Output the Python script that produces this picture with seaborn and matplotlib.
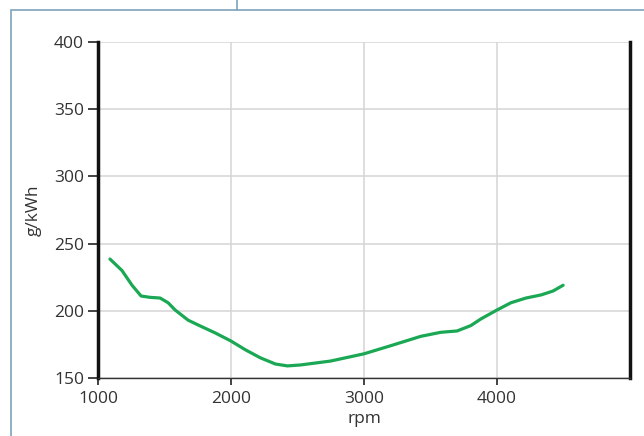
import pandas as pd
import seaborn as sns
import matplotlib.pyplot as plt
from matplotlib.lines import Line2D
from matplotlib.patches import Rectangle

# values
rpm = [1090, 1180, 1256, 1324, 1392, 1467, 1527, 1580, 1678, 1769, 1882, 2000,
       2108, 2221, 2334, 2424, 2522, 2748, 3000, 3200, 3427, 3577, 3700, 3803,
       3880, 4000, 4105, 4218, 4331, 4421, 4497]
gkwh = [238.5, 230.0, 219.0, 211.0, 210.0, 209.5, 206.0, 200.6, 193.0, 188.7,
        183.5, 177.5, 171.0, 165.0, 160.4, 159.0, 159.7, 162.6, 168.0, 174.0,
        181.0, 184.0, 185.0, 189.0, 194.0, 200.6, 206.0, 209.5, 211.8, 214.7, 219.0]
xticks = [1000, 2000, 3000, 4000]
yticks = [150, 200, 250, 300, 350, 400]

df = pd.DataFrame({'rpm': rpm, 'g/kWh': gkwh})

sns.set_style('white')
plt.rcParams['font.family'] = ['Open Sans', 'DejaVu Sans']
plt.rcParams['xtick.bottom'] = True
plt.rcParams['ytick.left'] = True

fig = plt.figure(figsize=(6.44, 4.36), dpi=100)
ax = fig.add_axes([98/644, 1-378/436, 532/644, 336/436])

sns.lineplot(data=df, x='rpm', y='g/kWh', color='#1aa854', linewidth=2.3, ax=ax)

ax.set_xlim(1000, 5000)
ax.set_ylim(150, 400)
ax.set_xticks(xticks)
ax.set_yticks(yticks)
ax.grid(True, color='#d4d4d4', linewidth=1.1)
ax.tick_params(axis='y', direction='out', length=7, width=1.2, color='#222222',
               labelsize=12.5, labelcolor='#333333', pad=3, left=True)
ax.tick_params(axis='x', direction='out', length=5, width=1.2, color='#222222',
               labelsize=12.5, labelcolor='#333333', pad=4, bottom=True)

for side in ['left', 'right']:
    ax.spines[side].set_color('#111111')
    ax.spines[side].set_linewidth(2.5)
ax.spines['bottom'].set_color('#333333')
ax.spines['bottom'].set_linewidth(1.0)
ax.spines['top'].set_visible(False)

ax.set_xlabel('rpm', fontsize=12.5, color='#333333', labelpad=3)
ax.set_ylabel('g/kWh', fontsize=12.5, color='#333333', labelpad=9)

# outer frame of the figure box
fig.patches.append(Rectangle((11/644, -0.05), 1.0, 1 - 10/436 + 0.05,
                             transform=fig.transFigure, fill=False,
                             edgecolor='#7ea3ba', linewidth=1.2))
fig.lines.append(Line2D([237/644, 237/644], [1 - 10/436, 1.0],
                        transform=fig.transFigure, color='#7ea3ba', linewidth=1.2))

fig.savefig('out.png', dpi=100)
